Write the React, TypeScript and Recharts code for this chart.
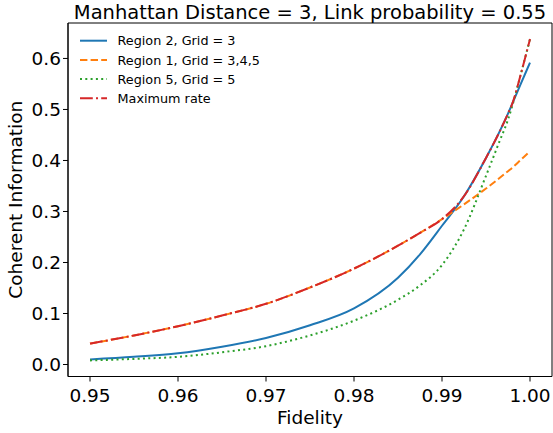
import React from "react";
import { LineChart, Line, XAxis, YAxis, Legend, ReferenceArea } from "recharts";

const fidelity = [0.95, 0.955, 0.96, 0.965, 0.97, 0.975, 0.98, 0.985, 0.9875, 0.99, 0.9925, 0.995, 0.9965, 0.9975, 0.998, 0.999, 1.0];
const region2 = [0.010, 0.015, 0.022, 0.035, 0.052, 0.077, 0.110, 0.170, 0.216, 0.272, 0.330, 0.405, 0.455, 0.492, 0.512, 0.552, 0.592];
const region1 = [0.041, 0.057, 0.075, 0.096, 0.119, 0.151, 0.188, 0.233, 0.258, 0.285, 0.314, 0.345, 0.365, 0.379, 0.386, 0.402, 0.418];
const region5 = [0.008, 0.011, 0.015, 0.024, 0.036, 0.057, 0.086, 0.127, 0.155, 0.195, 0.265, 0.370, 0.436, 0.480, 0.508, 0.572, 0.638];
const maxRate = [0.041, 0.057, 0.075, 0.096, 0.119, 0.151, 0.188, 0.233, 0.258, 0.285, 0.330, 0.405, 0.455, 0.492, 0.512, 0.572, 0.638];

const xTicks = [0.95, 0.96, 0.97, 0.98, 0.99, 1.0];
const yTicks = [0, 0.1, 0.2, 0.3, 0.4, 0.5, 0.6];
const xDomain = [0.9475, 1.0025];
const yDomain = [-0.0235, 0.6695];

const seriesNames = ["Region 2, Grid = 3", "Region 1, Grid = 3,4,5", "Region 5, Grid = 5", "Maximum rate"];
const titleText = "Manhattan Distance = 3, Link probability = 0.55";
const xLabel = "Fidelity";
const yLabel = "Coherent Information";

const data = fidelity.map((f, i) => ({
  f,
  r2: region2[i],
  r1: region1[i],
  r5: region5[i],
  mx: maxRate[i],
}));

const FONT = "'DejaVu Sans', sans-serif";

const styles = [
  { key: "r2", color: "#1f77b4", dash: undefined as string | undefined },
  { key: "r1", color: "#ff7f0e", dash: "7.4 3.2" },
  { key: "r5", color: "#2ca02c", dash: "2 3.3" },
  { key: "mx", color: "#d62728", dash: "12.8 3.2 2 3.2" },
];

const renderLegend = () => (
  <svg width={200} height={90} style={{ display: "block", fontFamily: FONT }}>
    {seriesNames.map((name, i) => {
      const cy = 20.7 + i * 19.2;
      const st = styles[i];
      return (
        <g key={name}>
          <line x1={12} x2={39} y1={cy} y2={cy} stroke={st.color} strokeWidth={2} strokeDasharray={st.dash} />
          <text x={49.5} y={cy + 4.6} fontSize={12.8} fill="#000">{name}</text>
        </g>
      );
    })}
  </svg>
);

export default function App() {
  return (
    <div style={{ position: "absolute", left: 0, top: 0, width: 553, height: 433, background: "#fff" }}>
      <LineChart width={553} height={433} data={data} margin={{ top: 23, right: 1, bottom: 0, left: 0 }}>
        <XAxis
          dataKey="f"
          type="number"
          domain={xDomain}
          ticks={xTicks}
          tickFormatter={(v: number) => v.toFixed(2)}
          height={56.5}
          tickSize={5}
          tickMargin={7}
          allowDataOverflow
          axisLine={{ stroke: "#000", strokeWidth: 1 }}
          tickLine={{ stroke: "#000" }}
          tick={{ fill: "#000", fontSize: 18.5, fontFamily: FONT }}
        />
        <YAxis
          type="number"
          domain={yDomain}
          ticks={yTicks}
          tickFormatter={(v: number) => v.toFixed(1)}
          width={68}
          tickSize={5}
          tickMargin={2}
          allowDataOverflow
          axisLine={{ stroke: "#000", strokeWidth: 1 }}
          tickLine={{ stroke: "#000" }}
          tick={{ fill: "#000", fontSize: 18.5, fontFamily: FONT }}
        />
        <ReferenceArea
          x1={xDomain[0]}
          x2={xDomain[1]}
          y1={yDomain[0]}
          y2={yDomain[1]}
          fill="none"
          fillOpacity={0}
          stroke="#000"
          strokeWidth={1}
          ifOverflow="visible"
        />
        {styles.map((st, i) => (
          <Line
            key={st.key}
            dataKey={st.key}
            name={seriesNames[i]}
            type="monotone"
            stroke={st.color}
            strokeWidth={2}
            strokeDasharray={st.dash}
            dot={false}
            activeDot={false}
            isAnimationActive={false}
          />
        ))}
        <Legend
          layout="vertical"
          align="center"
          verticalAlign="middle"
          content={renderLegend}
          wrapperStyle={{ left: 68, top: 20, width: 200, height: 90 }}
        />
      </LineChart>
      <svg width={553} height={433} style={{ position: "absolute", left: 0, top: 0, pointerEvents: "none", fontFamily: FONT }}>
        <text x={310} y={19} textAnchor="middle" fontSize={19.5} fill="#000">{titleText}</text>
        <text x={310} y={424} textAnchor="middle" fontSize={18.5} fill="#000">{xLabel}</text>
        <text transform="translate(22,199.75) rotate(-90)" textAnchor="middle" fontSize={18.5} fill="#000">{yLabel}</text>
      </svg>
    </div>
  );
}
